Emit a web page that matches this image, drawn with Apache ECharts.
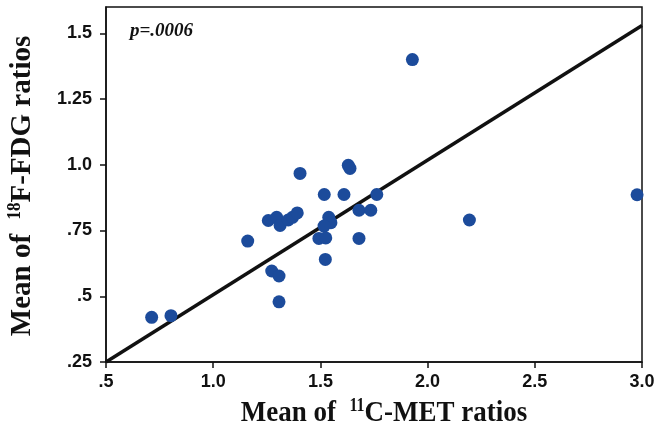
<!DOCTYPE html>
<html><head><meta charset="utf-8">
<script src="https://cdn.jsdelivr.net/npm/echarts@6/dist/echarts.min.js"></script>
<style>html,body{margin:0;padding:0;background:#fff}#c{width:664px;height:434px}</style>
</head><body><div id="c"></div>
<script>
// Data (Mean of 11C-MET ratios, Mean of 18F-FDG ratios)
var metValues = [0.713,0.803,1.161,1.257,1.296,1.312,1.350,1.370,1.392,1.405,1.273,1.307,1.307,1.518,1.610,1.630,1.638,1.763,1.680,1.735,1.539,1.549,1.517,1.493,1.525,1.680,1.523,1.929,2.195,2.977];
var fdgValues = [0.420,0.426,0.710,0.788,0.800,0.769,0.790,0.800,0.817,0.967,0.596,0.577,0.479,0.887,0.887,0.998,0.986,0.887,0.827,0.827,0.800,0.780,0.767,0.720,0.722,0.720,0.640,1.400,0.790,0.886];
var fitX = [0.5, 3.0];
var fitY = [0.25, 1.53];
var xTickLabels = {'0.5':'.5','1':'1.0','1.5':'1.5','2':'2.0','2.5':'2.5','3':'3.0'};
var yTickLabels = {'0.25':'.25','0.5':'.5','0.75':'.75','1':'1.0','1.25':'1.25','1.5':'1.5'};
var pText = 'p=.0006';
var xTitle = '{n|Mean of  }{s|11}{n|C-MET ratios}';
var yTitle = '{n|Mean of  }{s|18}{n|F-FDG ratios}';

var points = metValues.map(function(v,i){return [v, fdgValues[i]];});
var fit = fitX.map(function(v,i){return [v, fitY[i]];});
var chart = echarts.init(document.getElementById('c'), null, {renderer:'canvas'});
var serif = '"Liberation Serif","Times New Roman",serif';
var sans = '"Liberation Sans",Arial,sans-serif';
function titleRich(size){
  return {
    n:{fontFamily:serif,fontWeight:'bold',fontSize:size,fill:'#111',color:'#111'},
    s:{fontFamily:serif,fontWeight:'bold',fontSize:Math.round(size*0.6),fill:'#111',color:'#111',verticalAlign:'top',padding:[0,0,Math.round(size*0.45),0]}
  };
}
chart.setOption({
  animation:false,
  backgroundColor:'#fff',
  grid:{left:106,right:22,top:7,bottom:72,show:true,borderColor:'#111',borderWidth:1.5,backgroundColor:'#fff'},
  graphic:[
    {type:'text',left:130,top:22,style:{text:pText,fontFamily:serif,fontStyle:'italic',fontWeight:'bold',fontSize:19,fill:'#111'}},
    {type:'text',x:384,y:413,scaleY:1.12,style:{text:xTitle,rich:titleRich(27),align:'center',verticalAlign:'middle'}},
    {type:'text',x:22,y:186,rotation:Math.PI/2,scaleY:1.05,style:{text:yTitle,rich:titleRich(29),align:'center',verticalAlign:'middle'}}
  ],
  xAxis:{type:'value',min:0.5,max:3,interval:0.5,
    axisLine:{lineStyle:{color:'#111',width:1.5}},
    axisTick:{show:true,length:6,lineStyle:{color:'#111',width:1.5}},
    axisLabel:{margin:11,fontFamily:sans,fontWeight:'bold',fontSize:18,color:'#111',formatter:function(v){return xTickLabels[String(v)]||'';}},
    splitLine:{show:false}},
  yAxis:{type:'value',min:0.25,max:1.6,interval:0.25,
    axisLine:{lineStyle:{color:'#111',width:1.5}},
    axisTick:{show:true,length:6,lineStyle:{color:'#111',width:1.5}},
    axisLabel:{margin:14,fontFamily:sans,fontWeight:'bold',fontSize:18,color:'#111',showMaxLabel:false,formatter:function(v){return yTickLabels[String(v)]||'';}},
    splitLine:{show:false}},
  series:[
    {type:'line',data:fit,symbol:'none',lineStyle:{color:'#111',width:3.5},z:2,silent:true},
    {type:'scatter',data:points,symbol:'circle',symbolSize:13,itemStyle:{color:'#1c4b9b',opacity:1},z:3}
  ]
});
</script></body></html>
